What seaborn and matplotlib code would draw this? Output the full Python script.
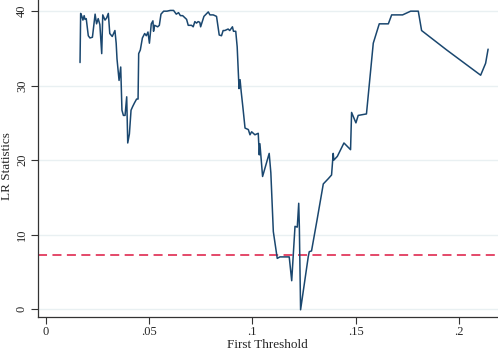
import matplotlib
matplotlib.use("Agg")
import matplotlib.pyplot as plt
import seaborn as sns
import pandas as pd

# threshold grid and LR statistic
threshold = [0.0166, 0.0169, 0.0175, 0.0180, 0.0186, 0.0190, 0.0196, 0.0206, 0.0214,
             0.0226, 0.0239, 0.0246, 0.0254, 0.0262, 0.0271, 0.0276, 0.0287, 0.0295,
             0.0303, 0.0310, 0.0322, 0.0335, 0.0341, 0.0345, 0.0355, 0.0363, 0.0369,
             0.0376, 0.0384, 0.0392, 0.0397, 0.0405, 0.0413, 0.0421, 0.0430, 0.0440,
             0.0447, 0.0450, 0.0458, 0.0468, 0.0479, 0.0487, 0.0495, 0.0502, 0.0511,
             0.0519, 0.0522, 0.0527, 0.0542, 0.0550, 0.0558, 0.0571, 0.0587, 0.0603,
             0.0619, 0.0632, 0.0643, 0.0652, 0.0663, 0.0682, 0.0690, 0.0706, 0.0714,
             0.0722, 0.0730, 0.0738, 0.0746, 0.0750, 0.0766, 0.0787, 0.0795, 0.0811,
             0.0827, 0.0840, 0.0851, 0.0859, 0.0867, 0.0883, 0.0891, 0.0904, 0.0909,
             0.0920, 0.0927, 0.0936, 0.0941, 0.0946, 0.0955, 0.0965, 0.0981, 0.0989,
             0.0997, 0.1013, 0.1029, 0.1034, 0.1037, 0.1050, 0.1082, 0.1090, 0.1102,
             0.1121, 0.1134, 0.1166, 0.1179, 0.1191, 0.1207, 0.1218, 0.1225, 0.1228,
             0.1234, 0.1255, 0.1271, 0.1276, 0.1287, 0.1314, 0.1344, 0.1368, 0.1384,
             0.1392, 0.1395, 0.1412, 0.1444, 0.1476, 0.1481, 0.1502, 0.1513, 0.1553,
             0.1586, 0.1615, 0.1659, 0.1675, 0.1728, 0.1767, 0.1804, 0.1820, 0.1941,
             0.2106, 0.2130, 0.2142]
lr_stat = [33.1, 39.7, 39.3, 38.8, 39.4, 38.9, 39.0, 36.7, 36.4, 36.5, 39.6, 38.3,
           39.0, 38.2, 34.3, 39.5, 38.8, 39.1, 39.7, 37.0, 36.6, 37.4, 35.7, 33.6,
           30.7, 32.5, 26.7, 26.0, 26.0, 28.5, 22.3, 23.5, 26.7, 27.2, 27.7, 28.2,
           28.2, 34.3, 34.8, 36.4, 37.0, 36.7, 37.2, 35.7, 38.3, 38.7, 37.3, 38.1,
           37.9, 38.1, 39.6, 40.0, 40.0, 40.1, 40.1, 39.6, 39.8, 39.4, 39.4, 38.9,
           38.1, 38.1, 37.9, 38.6, 38.4, 38.6, 38.5, 37.9, 39.3, 39.9, 39.5, 39.5,
           39.3, 36.8, 36.7, 37.4, 37.4, 37.6, 37.4, 37.9, 37.3, 37.3, 35.2, 29.6,
           30.8, 29.3, 27.0, 24.3, 24.1, 23.4, 23.8, 23.4, 23.6, 20.7, 22.2, 17.8,
           20.9, 18.3, 10.4, 6.8, 7.0, 7.0, 7.0, 3.8, 11.1, 11.0, 14.2, 11.1,
           -0.1, 3.9, 7.0, 7.7, 7.8, 12.0, 16.8, 17.5, 18.0, 20.9, 20.0, 20.5,
           22.3, 21.4, 26.4, 25.0, 26.0, 26.2, 35.7, 38.3, 38.3, 39.5, 39.5, 40.0,
           40.0, 37.4, 34.8, 31.4, 33.0, 34.9]
critical_value = 7.3

x_ticks = [0, 0.05, 0.1, 0.15, 0.2]
x_tick_labels = ["0", ".05", ".1", ".15", ".2"]
y_ticks = [0, 10, 20, 30, 40]

df = pd.DataFrame({"threshold": threshold, "lr": lr_stat})

sns.set_style("white")
plt.rcParams["font.family"] = ["Liberation Serif", "DejaVu Serif"]

fig = plt.figure(figsize=(4.98, 3.52), dpi=100)
ax = fig.add_axes([0.0757, 0.1003, 0.9243, 0.8997])

for yv in y_ticks:
    ax.axhline(yv, color="#e9f0f2", lw=1.0, zorder=0)

sns.lineplot(data=df, x="threshold", y="lr", ax=ax, color="#1a476f", lw=1.1,
             sort=False, estimator=None, zorder=3)
ax.axhline(critical_value, color="#e23a5e", lw=1.3, ls=(0, (5, 3)), zorder=2)

ax.set_xlim(-0.0039, 0.219)
ax.set_ylim(-1.03, 41.5)
ax.set_xticks(x_ticks)
ax.set_xticklabels(x_tick_labels)
ax.set_yticks(y_ticks)
ax.set_yticklabels([str(v) for v in y_ticks], rotation=90, va="center")

ax.set_xlabel("First Threshold", fontsize=9.5, va="center")
ax.set_ylabel("LR Statistics", fontsize=9.5, va="center")
ax.xaxis.set_label_coords(0.498, -0.089)
ax.yaxis.set_label_coords(-0.067, 0.476)
ax.tick_params(axis="both", labelsize=9, length=5, width=0.8, color="#333333",
               direction="out", bottom=True, left=True, pad=2)

for side in ["top", "right"]:
    ax.spines[side].set_visible(False)
for side in ["left", "bottom"]:
    ax.spines[side].set_color("#333333")
    ax.spines[side].set_linewidth(0.9)

fig.savefig("out.png", dpi=100)
